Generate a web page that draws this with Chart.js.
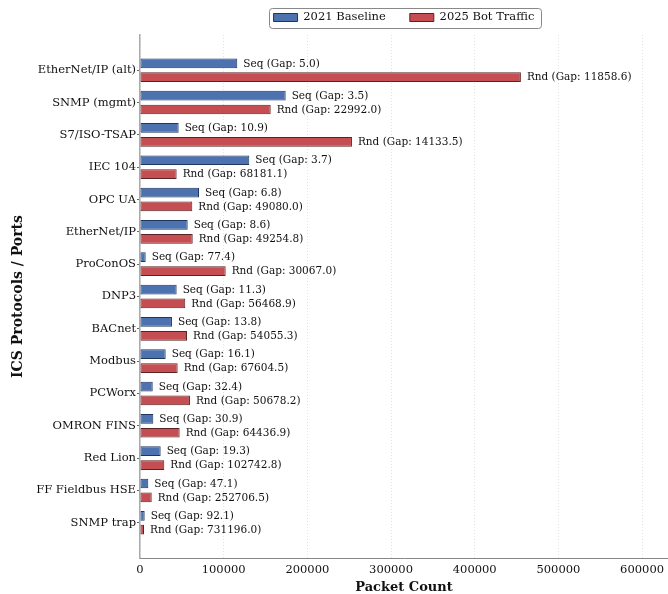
<!DOCTYPE html>
<html>
<head>
<meta charset="utf-8">
<script src="https://cdn.jsdelivr.net/npm/chart.js@4.4.1/dist/chart.umd.min.js"></script>
<style>
  html, body { margin: 0; padding: 0; background: #fff; }
</style>
</head>
<body>
<canvas id="chart" width="668" height="594"></canvas>
<script>
const protocols = [
  "EtherNet/IP (alt)", "SNMP (mgmt)", "S7/ISO-TSAP", "IEC 104", "OPC UA",
  "EtherNet/IP", "ProConOS", "DNP3", "BACnet", "Modbus",
  "PCWorx", "OMRON FINS", "Red Lion", "FF Fieldbus HSE", "SNMP trap"
];
const baseline2021 = [
  116250, 174100, 46200, 130600, 70500,
  57000, 6800, 43800, 38200, 30700,
  15200, 15900, 24700, 9900, 5600
];
const botTraffic2025 = [
  455200, 156200, 253300, 43800, 62500,
  63000, 102400, 54100, 56200, 45000,
  59700, 47400, 29000, 14000, 4800
];
const seqGaps = [5.0, 3.5, 10.9, 3.7, 6.8, 8.6, 77.4, 11.3, 13.8, 16.1, 32.4, 30.9, 19.3, 47.1, 92.1];
const rndGaps = [
  11858.6, 22992.0, 14133.5, 68181.1, 49080.0,
  49254.8, 30067.0, 56468.9, 54055.3, 67604.5,
  50678.2, 64436.9, 102742.8, 252706.5, 731196.0
];
const xTicks = [0, 100000, 200000, 300000, 400000, 500000, 600000];
const X_MAX = 631000;
const SERIF = '"DejaVu Serif", serif';

// text at the end of each bar
const barLabels = {
  id: "barLabels",
  afterDatasetsDraw(chart) {
    const ctx = chart.ctx;
    const gaps = [seqGaps, rndGaps];
    const prefix = ["Seq", "Rnd"];
    ctx.save();
    ctx.font = "10.5px " + SERIF;
    ctx.fillStyle = "#111";
    ctx.textBaseline = "middle";
    chart.data.datasets.forEach((ds, di) => {
      chart.getDatasetMeta(di).data.forEach((bar, i) => {
        ctx.fillText(`${prefix[di]} (Gap: ${gaps[di][i].toFixed(1)})`, bar.x + 6, bar.y + 0.5);
      });
    });
    ctx.restore();
  }
};

// legend sits centred over the plot area, inside a thin frame
const LEGEND_PAD = 24;
const LEGEND_CY = 17.5;
const legendFrame = {
  id: "legendFrame",
  afterLayout(chart) {
    const l = chart.legend;
    const shift = (chart.chartArea.left + chart.chartArea.right) / 2 - (l.left + l.right) / 2;
    l.left += shift;
    l.right += shift;
    const itemH = l.legendHitBoxes.length ? l.legendHitBoxes[0].height : 14;
    const dy = LEGEND_CY - (l.top + LEGEND_PAD + itemH / 2);
    l.top += dy;
    l.bottom += dy;
  },
  afterDraw(chart) {
    const boxes = chart.legend.legendHitBoxes;
    if (!boxes || !boxes.length) return;
    const x1 = Math.min(...boxes.map(b => b.left)) - 5;
    const x2 = Math.max(...boxes.map(b => b.left + b.width)) + 6;
    const y1 = Math.min(...boxes.map(b => b.top)) - 4;
    const y2 = Math.max(...boxes.map(b => b.top + b.height)) + 4;
    const ctx = chart.ctx;
    ctx.save();
    ctx.strokeStyle = "#888";
    ctx.lineWidth = 1;
    ctx.beginPath();
    ctx.roundRect(Math.round(x1) + 0.5, Math.round(y1) + 0.5, Math.round(x2 - x1), Math.round(y2 - y1), 3);
    ctx.stroke();
    ctx.restore();
  }
};

new Chart(document.getElementById("chart"), {
  type: "bar",
  data: {
    datasets: [
      {
        label: "2021 Baseline",
        data: baseline2021.map((v, i) => ({ x: v, y: i })),
        backgroundColor: "#4c72b0",
        borderColor: "#1f3560",
        borderWidth: 1,
        borderSkipped: false
      },
      {
        label: "2025 Bot Traffic",
        data: botTraffic2025.map((v, i) => ({ x: v, y: i })),
        backgroundColor: "#c44e52",
        borderColor: "#5a2224",
        borderWidth: 1,
        borderSkipped: false
      }
    ]
  },
  options: {
    indexAxis: "y",
    responsive: false,
    animation: false,
    categoryPercentage: 0.86,
    barPercentage: 0.7,
    layout: { padding: 0 },
    plugins: {
      legend: {
        position: "top",
        maxHeight: 35,
        labels: {
          boxWidth: 24,
          boxHeight: 8,
          padding: LEGEND_PAD,
          color: "#111",
          font: { family: SERIF, size: 11.5 }
        }
      },
      tooltip: { enabled: false }
    },
    scales: {
      x: {
        type: "linear",
        min: 0,
        max: X_MAX,
        afterFit(scale) { scale.height = 36; },
        afterBuildTicks(scale) {
          scale.ticks = xTicks.map(v => ({ value: v }));
        },
        ticks: {
          color: "#111",
          padding: 1,
          maxRotation: 0,
          font: { family: SERIF, size: 11.5 },
          callback: v => String(v)
        },
        grid: {
          color: "#e2e2e2",
          lineWidth: 1,
          tickLength: 4,
          tickColor: "rgba(0,0,0,0)"
        },
        border: { display: true, color: "#888", width: 1, dash: [1, 2] },
        title: {
          display: true,
          text: "Packet Count",
          color: "#111",
          padding: { top: 0, bottom: -1.5 },
          font: { family: SERIF, size: 13, weight: "bold" }
        }
      },
      y: {
        type: "linear",
        reverse: true,
        offset: false,
        min: -1.09,
        max: protocols.length - 1 + 1.09,
        afterFit(scale) { scale.width = 140; },
        afterBuildTicks(scale) {
          scale.ticks = protocols.map((_, i) => ({ value: i }));
        },
        ticks: {
          autoSkip: false,
          color: "#111",
          padding: 1,
          font: { family: SERIF, size: 11.5 },
          callback: v => protocols[v]
        },
        grid: {
          offset: false,
          drawOnChartArea: false,
          tickLength: 3,
          tickColor: "#666"
        },
        border: { display: true, color: "#aaa", width: 1.5 },
        title: {
          display: true,
          text: "ICS Protocols / Ports",
          color: "#111",
          padding: { top: 10, bottom: 0 },
          font: { family: SERIF, size: 14, weight: "bold" }
        }
      }
    }
  },
  plugins: [barLabels, legendFrame]
});
</script>
</body>
</html>
